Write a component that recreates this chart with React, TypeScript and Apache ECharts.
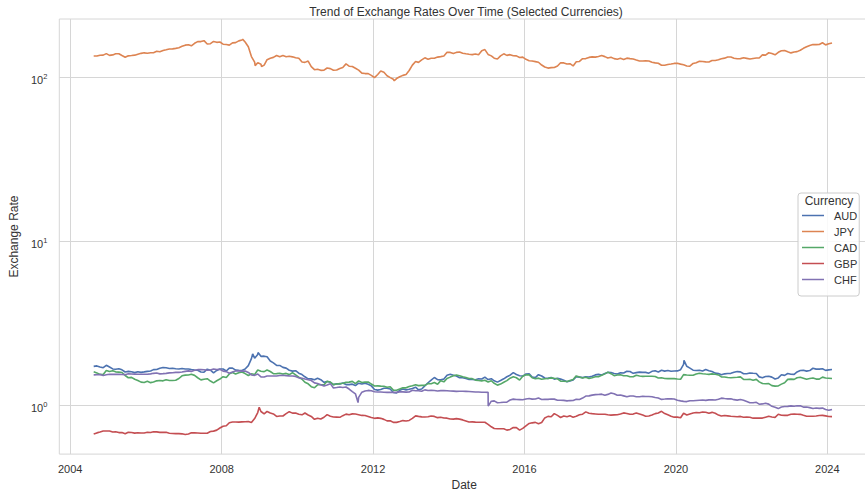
import React, { useEffect, useRef } from "react";
import * as echarts from "echarts";

// Monthly EUR reference rates, one value per month from Aug 2004 to Feb 2024.
const FIRST_YEAR = 2004;
const FIRST_MONTH = 8;

const CURRENCIES = ["AUD", "JPY", "CAD", "GBP", "CHF"];
const COLORS = ["#4C72B0", "#DD8452", "#55A868", "#C44E52", "#8172B3"];

const AUD = [
  /*2004*/ 1.728, 1.74, 1.714, 1.696, 1.755,
  /*2005*/ 1.713, 1.668, 1.661, 1.673, 1.648, 1.598, 1.612, 1.604, 1.584, 1.603, 1.59, 1.6,
  /*2006*/ 1.611, 1.622, 1.652, 1.655, 1.684, 1.7, 1.695, 1.678, 1.683, 1.672, 1.665, 1.677,
  /*2007*/ 1.666, 1.668, 1.653, 1.642, 1.637, 1.597, 1.593, 1.662, 1.639, 1.577, 1.632, 1.667,
  /*2008*/ 1.667, 1.621, 1.687, 1.687, 1.64, 1.634, 1.633, 1.665, 1.748, 1.927, 1.939, 2.045,
  /*2009*/ 1.99, 1.995, 1.977, 1.864, 1.815, 1.754, 1.752, 1.704, 1.687, 1.637, 1.617, 1.627,
  /*2010*/ 1.57, 1.541, 1.494, 1.452, 1.451, 1.432, 1.463, 1.434, 1.381, 1.398, 1.383, 1.338,
  /*2011*/ 1.354, 1.351, 1.368, 1.339, 1.338, 1.347, 1.321, 1.365, 1.351, 1.365, 1.346, 1.315,
  /*2012*/ 1.251, 1.239, 1.249, 1.271, 1.271, 1.259, 1.198, 1.192, 1.236, 1.257, 1.243, 1.254,
  /*2013*/ 1.266, 1.291, 1.244, 1.259, 1.316, 1.374, 1.425, 1.479, 1.434, 1.431, 1.446, 1.527,
  /*2014*/ 1.546, 1.527, 1.509, 1.474, 1.473, 1.458, 1.441, 1.439, 1.434, 1.452, 1.448, 1.486,
  /*2015*/ 1.436, 1.454, 1.412, 1.386, 1.418, 1.452, 1.494, 1.527, 1.583, 1.543, 1.515, 1.509,
  /*2016*/ 1.553, 1.557, 1.487, 1.478, 1.539, 1.511, 1.468, 1.461, 1.481, 1.445, 1.465, 1.446,
  /*2017*/ 1.421, 1.393, 1.407, 1.428, 1.496, 1.486, 1.476, 1.494, 1.489, 1.506, 1.534, 1.546,
  /*2018*/ 1.533, 1.563, 1.589, 1.587, 1.564, 1.553, 1.581, 1.574, 1.615, 1.608, 1.568, 1.584,
  /*2019*/ 1.594, 1.59, 1.589, 1.572, 1.613, 1.624, 1.598, 1.638, 1.617, 1.63, 1.613, 1.619,
  /*2020*/ 1.622, 1.65, 1.78, 1.731, 1.686, 1.639, 1.632, 1.638, 1.62, 1.654, 1.627, 1.608,
  /*2021*/ 1.572, 1.566, 1.538, 1.557, 1.563, 1.568, 1.593, 1.607, 1.601, 1.558, 1.56, 1.575,
  /*2022*/ 1.569, 1.565, 1.492, 1.473, 1.499, 1.506, 1.487, 1.449, 1.47, 1.536, 1.524, 1.563,
  /*2023*/ 1.548, 1.546, 1.599, 1.63, 1.636, 1.617, 1.63, 1.684, 1.663, 1.663, 1.671, 1.635,
  /*2024*/ 1.646, 1.653,
];

const JPY = [
  /*2004*/ 134.4, 134.5, 135.9, 136.1, 139.1,
  /*2005*/ 135.6, 136.6, 138.8, 138.8, 135.4, 132.2, 134.8, 135.4, 136.1, 138.0, 139.6, 140.6,
  /*2006*/ 139.8, 140.8, 140.9, 143.6, 142.7, 145.1, 146.7, 148.5, 148.6, 149.7, 151.1, 154.0,
  /*2007*/ 156.6, 157.6, 155.2, 160.7, 164.6, 164.6, 166.8, 159.1, 159.8, 164.9, 162.9, 163.6,
  /*2008*/ 158.7, 157.9, 156.6, 161.6, 162.3, 166.3, 168.5, 163.6, 153.2, 133.5, 123.3, 122.5,
  /*2009*/ 119.7, 118.3, 127.7, 130.3, 131.9, 135.4, 133.1, 135.3, 133.1, 133.9, 132.9, 131.2,
  /*2010*/ 130.3, 123.5, 123.0, 125.3, 115.8, 111.0, 111.7, 110.0, 110.3, 113.7, 112.7, 110.1,
  /*2011*/ 110.4, 112.8, 114.4, 120.4, 116.5, 116.0, 113.3, 110.4, 105.8, 105.1, 105.0, 102.5,
  /*2012*/ 99.3, 103.8, 108.9, 107.0, 102.0, 99.3, 97.1, 98.0, 100.5, 102.5, 103.9, 109.7,
  /*2013*/ 118.3, 124.4, 123.0, 127.5, 131.1, 128.4, 130.4, 130.3, 132.4, 133.3, 134.4, 141.7,
  /*2014*/ 141.5, 139.1, 141.5, 142.2, 139.8, 138.7, 137.7, 137.1, 138.4, 136.9, 145.0, 147.1,
  /*2015*/ 137.5, 134.7, 130.4, 128.9, 134.8, 138.7, 135.7, 137.1, 134.9, 134.8, 131.6, 132.4,
  /*2016*/ 128.3, 125.9, 125.4, 124.3, 123.2, 118.5, 115.2, 113.5, 114.2, 114.5, 116.9, 122.4,
  /*2017*/ 122.1, 120.2, 120.7, 117.0, 124.1, 124.6, 129.5, 129.7, 131.9, 132.8, 132.4, 133.6,
  /*2018*/ 135.3, 133.3, 130.9, 132.2, 129.6, 128.5, 130.2, 128.2, 130.5, 129.6, 128.8, 127.0,
  /*2019*/ 125.3, 125.3, 125.7, 125.4, 123.2, 122.1, 121.4, 118.2, 118.2, 119.5, 120.3, 121.2,
  /*2020*/ 121.4, 120.0, 118.9, 116.9, 116.6, 121.1, 122.4, 124.9, 124.5, 123.9, 123.6, 126.3,
  /*2021*/ 126.3, 127.5, 129.4, 130.5, 132.6, 132.6, 130.4, 129.3, 129.6, 131.2, 130.1, 128.8,
  /*2022*/ 130.0, 130.7, 130.7, 136.6, 136.2, 140.8, 139.2, 136.7, 141.6, 144.7, 145.1, 142.8,
  /*2023*/ 140.5, 142.4, 143.0, 145.8, 149.8, 153.2, 156.0, 157.9, 157.8, 158.0, 161.9, 157.2,
  /*2024*/ 159.5, 161.4,
];

const CAD = [
  /*2004*/ 1.603, 1.578, 1.545, 1.542, 1.634,
  /*2005*/ 1.607, 1.625, 1.601, 1.594, 1.587, 1.521, 1.474, 1.481, 1.442, 1.417, 1.386, 1.379,
  /*2006*/ 1.401, 1.376, 1.387, 1.411, 1.418, 1.411, 1.435, 1.419, 1.418, 1.422, 1.458, 1.515,
  /*2007*/ 1.529, 1.532, 1.546, 1.524, 1.474, 1.43, 1.443, 1.454, 1.407, 1.372, 1.413, 1.447,
  /*2008*/ 1.496, 1.478, 1.556, 1.587, 1.553, 1.581, 1.596, 1.563, 1.521, 1.557, 1.541, 1.644,
  /*2009*/ 1.616, 1.607, 1.643, 1.609, 1.56, 1.561, 1.571, 1.555, 1.567, 1.541, 1.582, 1.535,
  /*2010*/ 1.488, 1.443, 1.384, 1.354, 1.301, 1.281, 1.335, 1.337, 1.335, 1.405, 1.387, 1.339,
  /*2011*/ 1.349, 1.357, 1.364, 1.381, 1.386, 1.401, 1.356, 1.41, 1.379, 1.387, 1.39, 1.349,
  /*2012*/ 1.313, 1.315, 1.31, 1.309, 1.29, 1.299, 1.239, 1.237, 1.259, 1.279, 1.279, 1.302,
  /*2013*/ 1.318, 1.335, 1.32, 1.325, 1.325, 1.358, 1.356, 1.378, 1.347, 1.415, 1.391, 1.458,
  /*2014*/ 1.487, 1.514, 1.533, 1.517, 1.494, 1.479, 1.457, 1.456, 1.426, 1.418, 1.411, 1.422,
  /*2015*/ 1.389, 1.413, 1.364, 1.329, 1.348, 1.384, 1.416, 1.465, 1.494, 1.474, 1.426, 1.506,
  /*2016*/ 1.538, 1.534, 1.474, 1.452, 1.466, 1.442, 1.452, 1.457, 1.471, 1.462, 1.453, 1.406,
  /*2017*/ 1.404, 1.398, 1.419, 1.44, 1.513, 1.488, 1.468, 1.484, 1.46, 1.473, 1.494, 1.496,
  /*2018*/ 1.528, 1.556, 1.595, 1.56, 1.517, 1.531, 1.536, 1.517, 1.517, 1.496, 1.495, 1.527,
  /*2019*/ 1.511, 1.502, 1.506, 1.505, 1.506, 1.499, 1.47, 1.473, 1.459, 1.455, 1.459, 1.455,
  /*2020*/ 1.447, 1.443, 1.54, 1.533, 1.527, 1.528, 1.555, 1.57, 1.559, 1.552, 1.546, 1.557,
  /*2021*/ 1.548, 1.533, 1.491, 1.49, 1.478, 1.473, 1.48, 1.484, 1.492, 1.441, 1.439, 1.443,
  /*2022*/ 1.425, 1.441, 1.391, 1.36, 1.355, 1.357, 1.32, 1.31, 1.314, 1.348, 1.375, 1.441,
  /*2023*/ 1.446, 1.441, 1.474, 1.484, 1.464, 1.442, 1.457, 1.47, 1.446, 1.446, 1.487, 1.469,
  /*2024*/ 1.464, 1.457,
];

const GBP = [
  /*2004*/ 0.669, 0.68, 0.688, 0.698, 0.698,
  /*2005*/ 0.699, 0.688, 0.691, 0.683, 0.684, 0.672, 0.686, 0.683, 0.678, 0.681, 0.679, 0.679,
  /*2006*/ 0.686, 0.684, 0.691, 0.69, 0.685, 0.685, 0.686, 0.677, 0.674, 0.673, 0.673, 0.671,
  /*2007*/ 0.664, 0.67, 0.681, 0.68, 0.679, 0.676, 0.677, 0.677, 0.693, 0.697, 0.707, 0.728,
  /*2008*/ 0.747, 0.751, 0.784, 0.793, 0.792, 0.791, 0.794, 0.795, 0.797, 0.787, 0.832, 0.905,
  /*2009*/ 0.918, 0.887, 0.919, 0.898, 0.887, 0.856, 0.861, 0.862, 0.891, 0.916, 0.897, 0.898,
  /*2010*/ 0.883, 0.876, 0.899, 0.874, 0.857, 0.823, 0.836, 0.826, 0.847, 0.879, 0.859, 0.849,
  /*2011*/ 0.848, 0.846, 0.866, 0.885, 0.878, 0.888, 0.886, 0.878, 0.869, 0.868, 0.856, 0.843,
  /*2012*/ 0.834, 0.839, 0.834, 0.822, 0.805, 0.807, 0.788, 0.788, 0.797, 0.808, 0.804, 0.81,
  /*2013*/ 0.833, 0.863, 0.857, 0.851, 0.849, 0.852, 0.862, 0.857, 0.842, 0.847, 0.838, 0.836,
  /*2014*/ 0.826, 0.825, 0.831, 0.825, 0.816, 0.804, 0.792, 0.794, 0.791, 0.789, 0.79, 0.789,
  /*2015*/ 0.767, 0.741, 0.723, 0.721, 0.721, 0.72, 0.707, 0.714, 0.733, 0.732, 0.707, 0.724,
  /*2016*/ 0.751, 0.776, 0.783, 0.788, 0.773, 0.787, 0.839, 0.857, 0.852, 0.891, 0.869, 0.844,
  /*2017*/ 0.861, 0.853, 0.864, 0.848, 0.858, 0.876, 0.884, 0.913, 0.895, 0.891, 0.887, 0.883,
  /*2018*/ 0.883, 0.884, 0.877, 0.872, 0.875, 0.877, 0.887, 0.9, 0.893, 0.883, 0.885, 0.898,
  /*2019*/ 0.886, 0.873, 0.858, 0.862, 0.873, 0.891, 0.9, 0.92, 0.892, 0.876, 0.858, 0.848,
  /*2020*/ 0.848, 0.841, 0.895, 0.874, 0.887, 0.899, 0.905, 0.902, 0.912, 0.909, 0.896, 0.907,
  /*2021*/ 0.895, 0.873, 0.861, 0.868, 0.863, 0.858, 0.856, 0.852, 0.857, 0.847, 0.848, 0.846,
  /*2022*/ 0.836, 0.836, 0.838, 0.837, 0.848, 0.858, 0.85, 0.845, 0.883, 0.871, 0.869, 0.87,
  /*2023*/ 0.883, 0.886, 0.884, 0.882, 0.87, 0.859, 0.859, 0.859, 0.862, 0.867, 0.869, 0.863,
  /*2024*/ 0.856, 0.854,
];

const CHF = [
  /*2004*/ 1.535, 1.536, 1.543, 1.522, 1.536,
  /*2005*/ 1.547, 1.545, 1.547, 1.546, 1.544, 1.539, 1.557, 1.553, 1.551, 1.548, 1.547, 1.548,
  /*2006*/ 1.548, 1.556, 1.568, 1.575, 1.556, 1.561, 1.567, 1.578, 1.582, 1.589, 1.59, 1.597,
  /*2007*/ 1.612, 1.623, 1.611, 1.636, 1.651, 1.655, 1.65, 1.639, 1.643, 1.666, 1.654, 1.658,
  /*2008*/ 1.617, 1.607, 1.569, 1.595, 1.62, 1.622, 1.618, 1.621, 1.587, 1.532, 1.524, 1.554,
  /*2009*/ 1.492, 1.49, 1.509, 1.51, 1.511, 1.51, 1.521, 1.527, 1.517, 1.513, 1.51, 1.502,
  /*2010*/ 1.471, 1.465, 1.45, 1.434, 1.418, 1.371, 1.358, 1.337, 1.311, 1.333, 1.357, 1.277,
  /*2011*/ 1.284, 1.296, 1.284, 1.294, 1.258, 1.213, 1.176, 1.119, 1.204, 1.223, 1.234, 1.228,
  /*2012*/ 1.21, 1.208, 1.206, 1.202, 1.201, 1.201, 1.201, 1.201, 1.209, 1.209, 1.205, 1.207,
  /*2013*/ 1.237, 1.229, 1.228, 1.219, 1.243, 1.232, 1.237, 1.232, 1.225, 1.231, 1.231, 1.228,
  /*2014*/ 1.223, 1.221, 1.217, 1.219, 1.22, 1.218, 1.216, 1.212, 1.207, 1.207, 1.203, 1.202,
  /*2015*/ 1.201, 1.061, 1.065, 1.038, 1.041, 1.045, 1.047, 1.078, 1.092, 1.087, 1.085, 1.083,
  /*2016*/ 1.094, 1.102, 1.092, 1.094, 1.11, 1.087, 1.089, 1.088, 1.094, 1.092, 1.076, 1.074,
  /*2017*/ 1.073, 1.066, 1.07, 1.072, 1.09, 1.087, 1.108, 1.14, 1.143, 1.155, 1.163, 1.165,
  /*2018*/ 1.171, 1.154, 1.167, 1.189, 1.178, 1.154, 1.158, 1.143, 1.128, 1.14, 1.14, 1.128,
  /*2019*/ 1.13, 1.137, 1.132, 1.134, 1.129, 1.118, 1.108, 1.088, 1.093, 1.098, 1.096, 1.094,
  /*2020*/ 1.074, 1.065, 1.058, 1.055, 1.068, 1.068, 1.072, 1.076, 1.079, 1.073, 1.08, 1.082,
  /*2021*/ 1.079, 1.09, 1.107, 1.101, 1.096, 1.098, 1.084, 1.077, 1.086, 1.075, 1.056, 1.038,
  /*2022*/ 1.038, 1.044, 1.017, 1.021, 1.032, 1.018, 0.987, 0.973, 0.956, 0.977, 0.984, 0.986,
  /*2023*/ 0.993, 0.989, 0.994, 0.995, 0.976, 0.977, 0.969, 0.958, 0.964, 0.959, 0.963, 0.944,
  /*2024*/ 0.933, 0.945,
];

// Daily fixings at the sharpest turning points: [year, month, day, rate]
const AUD_DAILY = [[2008, 10, 27, 2.06], [2008, 12, 18, 2.1], [2020, 3, 19, 1.88]];
const JPY_DAILY = [[2008, 7, 23, 169.8], [2008, 11, 20, 117.5], [2009, 1, 21, 116.0], [2012, 7, 24, 95.0]];
const CAD_DAILY: number[][] = [];
const GBP_DAILY = [[2008, 12, 29, 0.975]];
const CHF_DAILY = [[2011, 8, 9, 1.04], [2015, 1, 16, 0.99]];

const YEAR_TICKS = [2004, 2008, 2012, 2016, 2020, 2024];
const RATE_TICKS = [1, 10, 100];

const MONTHLY = [AUD, JPY, CAD, GBP, CHF];
const DAILY = [AUD_DAILY, JPY_DAILY, CAD_DAILY, GBP_DAILY, CHF_DAILY];

function decimalYear(y: number, m: number, d: number): number {
  const start = Date.UTC(y, 0, 1);
  const end = Date.UTC(y + 1, 0, 1);
  return y + (Date.UTC(y, m - 1, d) - start) / (end - start);
}

function buildPoints(monthly: number[], daily: number[][]): number[][] {
  const pts = monthly.map((v, i) => {
    const k = FIRST_MONTH - 1 + i;
    return [decimalYear(FIRST_YEAR + Math.floor(k / 12), (k % 12) + 1, 15), v];
  });
  daily.forEach(([y, m, d, v]) => pts.push([decimalYear(y, m, d), v]));
  pts.sort((a, b) => a[0] - b[0]);
  return pts;
}

const FONT = "'Liberation Sans', Arial, Helvetica, sans-serif";
const TEXT = "#333333";
const GRID = "#d6d6d6";
const SUP: Record<number, string> = { 1: "0", 10: "1", 100: "2" };

// The plot frame runs a few pixels past the right edge of the window,
// so the chart surface is slightly wider than the visible page.
const CHART_W = 873;
const CHART_H = 496;

export default function App() {
  const ref = useRef<HTMLDivElement>(null);

  useEffect(() => {
    if (!ref.current) return;
    const chart = echarts.init(ref.current, undefined, { renderer: "svg" });

    const series = CURRENCIES.map((name, i) => ({
      name,
      type: "line",
      data: buildPoints(MONTHLY[i], DAILY[i]),
      showSymbol: false,
      symbol: "none",
      lineStyle: { width: 1.6, color: COLORS[i] },
      itemStyle: { color: COLORS[i] },
      silent: true,
    }));

    chart.setOption({
      animation: false,
      backgroundColor: "#ffffff",
      textStyle: { fontFamily: FONT },
      title: {
        text: "Trend of Exchange Rates Over Time (Selected Currencies)",
        left: 461,
        textAlign: "center",
        top: 1,
        textStyle: { fontFamily: FONT, fontSize: 12, fontWeight: "normal", color: TEXT },
      },
      grid: { left: 52, right: 4, top: 19, bottom: 36, show: true, borderColor: GRID, borderWidth: 1, backgroundColor: "transparent" },
      xAxis: {
        type: "value",
        min: 2003.712,
        max: 2025.1,
        name: "Date",
        nameLocation: "middle",
        nameGap: 22,
        nameTextStyle: { fontFamily: FONT, fontSize: 12, color: TEXT },
        axisLine: { show: false },
        axisTick: { show: false, customValues: YEAR_TICKS },
        axisLabel: {
          customValues: YEAR_TICKS,
          formatter: (v: number) => String(Math.round(v)),
          fontFamily: FONT,
          fontSize: 11,
          color: TEXT,
          margin: 9,
        },
        splitLine: { show: true, lineStyle: { color: GRID, width: 1 } },
      },
      yAxis: {
        type: "log",
        logBase: 10,
        min: 0.505,
        max: 226,
        name: "Exchange Rate",
        nameLocation: "middle",
        nameGap: 35,
        nameTextStyle: { fontFamily: FONT, fontSize: 12, color: TEXT },
        axisLine: { show: false },
        axisTick: { show: false, customValues: RATE_TICKS },
        axisLabel: {
          customValues: RATE_TICKS,
          formatter: (v: number) => `{b|10}{s|${SUP[Math.round(v)] ?? ""}}`,
          margin: 12,
          padding: [5, 0, 0, 0],
          rich: {
            b: { fontFamily: FONT, fontSize: 11, color: TEXT, lineHeight: 14 },
            s: { fontFamily: FONT, fontSize: 7.5, color: TEXT, lineHeight: 8, verticalAlign: "top" },
          },
        },
        splitLine: { show: true, lineStyle: { color: GRID, width: 1 } },
      },
      legend: {
        data: CURRENCIES,
        orient: "vertical",
        left: 798,
        top: 193,
        padding: [16, 2, 10, 4],
        itemWidth: 22,
        itemHeight: 1.5,
        itemGap: 3,
        icon: "rect",
        backgroundColor: "rgba(255,255,255,0.85)",
        borderColor: "#cccccc",
        borderWidth: 1,
        borderRadius: 3,
        selectedMode: false,
        textStyle: { fontFamily: FONT, fontSize: 11, color: TEXT, lineHeight: 13, padding: [0, 0, 0, 5] },
      },
      graphic: [
        {
          type: "text",
          x: 829,
          y: 201,
          z: 100,
          style: {
            text: "Currency",
            fontFamily: FONT,
            fontSize: 12,
            fill: TEXT,
            align: "center",
            verticalAlign: "middle",
          },
        },
      ],
      series,
    });

    return () => chart.dispose();
  }, []);

  return <div ref={ref} style={{ position: "fixed", left: 0, top: 0, width: CHART_W, height: CHART_H }} />;
}
